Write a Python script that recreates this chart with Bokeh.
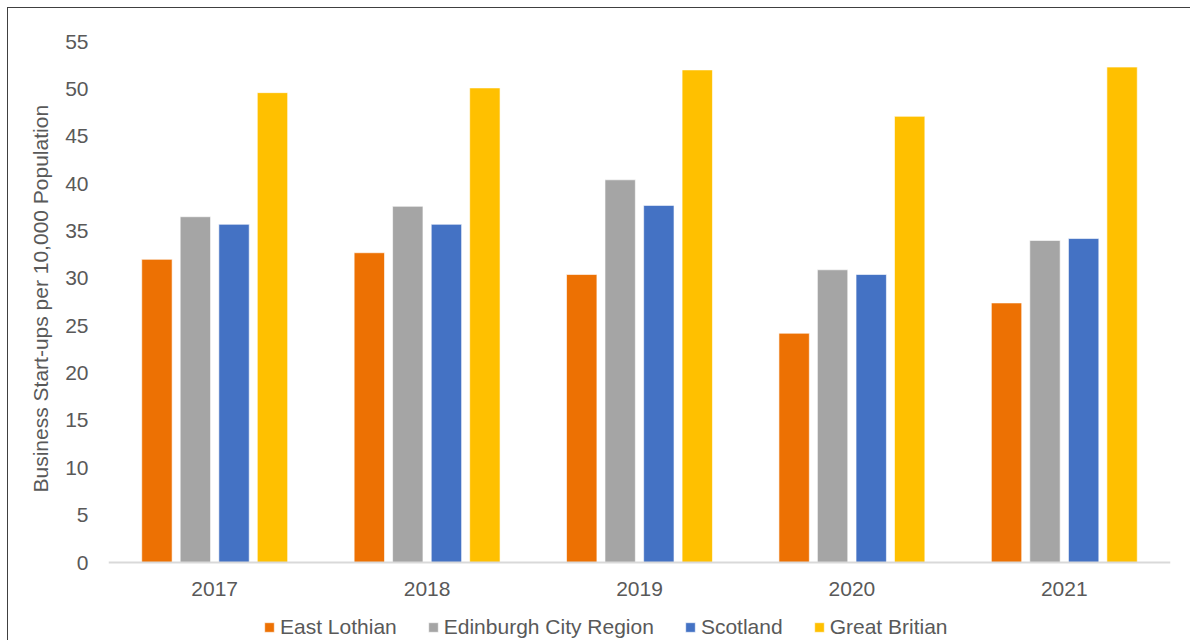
from bokeh.plotting import figure
from bokeh.models import (ColumnDataSource, FactorRange, Range1d, FixedTicker,
                          Legend, LegendItem, Title)
from bokeh.transform import dodge
from bokeh.embed import file_html
from bokeh.resources import INLINE

# Business start-ups per 10,000 population
years = ["2017", "2018", "2019", "2020", "2021"]
east_lothian = [32.0, 32.7, 30.4, 24.2, 27.4]
edinburgh_city_region = [36.5, 37.6, 40.4, 30.9, 34.0]
scotland = [35.7, 35.7, 37.7, 30.4, 34.2]
great_britain = [49.6, 50.1, 52.0, 47.1, 52.3]
y_ticks = [0, 5, 10, 15, 20, 25, 30, 35, 40, 45, 50, 55]

series_names = ["East Lothian", "Edinburgh City Region", "Scotland", "Great Britian"]
series_keys = ["el", "ecr", "sco", "gb"]
colors = ["#ED7103", "#A5A5A5", "#4472C4", "#FFC000"]
offsets = [-0.272, -0.091, 0.091, 0.272]

FONT = "Liberation Sans"
TEXT = "#595959"

W, H = 1183, 633
TOP, AXIS_Y = 33, 554          # pixel rows of the value 55 and of the zero line
y_max = y_ticks[-1]
# the frame runs to the bottom of the canvas so the legend can sit under the axis
y_min = -y_max * (H - AXIS_Y) / (AXIS_Y - TOP)

source = ColumnDataSource(dict(years=years, el=east_lothian, ecr=edinburgh_city_region,
                               sco=scotland, gb=great_britain))

p = figure(width=W, height=H, output_backend="svg", toolbar_location=None,
           x_range=FactorRange(factors=years, range_padding=0),
           y_range=Range1d(y_min, y_max),
           min_border_left=100, min_border_right=21, min_border_top=TOP, min_border_bottom=0)
p.styles = {"margin-left": "7px", "margin-top": "7px",
            "border-top": "1px solid #404040", "border-left": "1px solid #404040"}

p.outline_line_color = None
p.grid.visible = False
p.background_fill_color = "white"
p.border_fill_color = "white"

renderers = []
for key, name, col, off in zip(series_keys, series_names, colors, offsets):
    r = p.vbar(x=dodge("years", off, range=p.x_range), top=key, width=0.143, source=source,
               fill_color=col, line_color="white", line_width=1, line_alpha=0.6)
    renderers.append((name, r))

# y axis
p.yaxis.ticker = FixedTicker(ticks=y_ticks)
p.yaxis.axis_line_color = None
p.yaxis.major_tick_line_color = None
p.yaxis.minor_tick_line_color = None
p.yaxis.major_label_standoff = 14
p.yaxis.major_label_text_font = FONT
p.yaxis.major_label_text_font_size = "21px"
p.yaxis.major_label_text_color = TEXT

# value-axis caption, centred on the 0-55 span rather than the whole frame
ylabel = Title(text="Business Start-ups per 10,000 Population", align="left",
               offset=H - AXIS_Y + 70,
               text_font=FONT, text_font_size="21px", text_font_style="normal",
               text_color=TEXT, standoff=22)
p.add_layout(ylabel, "left")

# category axis drawn on the zero line
p.xaxis.fixed_location = 0
p.xaxis.axis_line_color = "#D9D9D9"
p.xaxis.axis_line_width = 2
p.xaxis.major_tick_line_color = None
p.xaxis.minor_tick_line_color = None
p.xaxis.major_label_standoff = 13
p.xaxis.major_label_text_font = FONT
p.xaxis.major_label_text_font_size = "21px"
p.xaxis.major_label_text_color = TEXT

legend = Legend(items=[LegendItem(label=n, renderers=[r]) for n, r in renderers],
                orientation="horizontal", location=(155, 2),
                glyph_width=12, glyph_height=12, label_standoff=5, spacing=30,
                padding=0, margin=0, border_line_color=None, background_fill_alpha=0,
                label_text_font=FONT, label_text_font_size="21px", label_text_color=TEXT,
                label_height=22)
p.add_layout(legend, "center")

open("out.html", "w").write(file_html(p, INLINE))
